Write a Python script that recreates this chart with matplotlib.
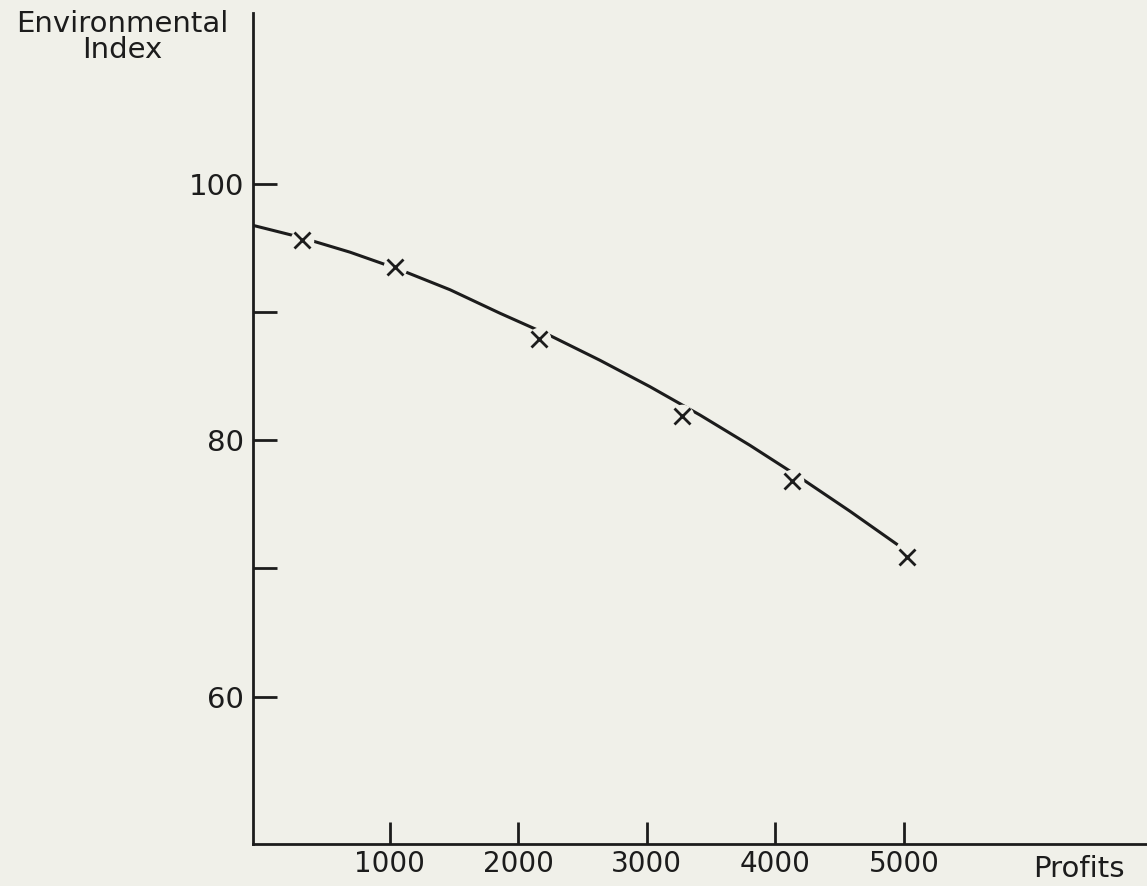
import matplotlib
matplotlib.use("Agg")
import matplotlib.pyplot as plt

# ---- data ----
point_x = [321, 1044, 2162, 3276, 4127, 5026]
point_y = [95.6, 93.5, 87.9, 81.9, 76.8, 70.9]

curve_x = [-62, 303, 692, 1081, 1470, 1858, 2247, 2636, 3025, 3414, 3802, 4191, 4580, 4951]
curve_y = [96.74, 95.82, 94.65, 93.28, 91.72, 89.89, 88.15, 86.22, 84.16, 81.95, 79.59, 77.08, 74.45, 71.83]

x_ticks = [1000, 2000, 3000, 4000, 5000]
x_tick_labels = ["1000", "2000", "3000", "4000", "5000"]
y_ticks = [60, 70, 80, 90, 100]
y_tick_labels = ["60", "", "80", "", "100"]

bg = "#f0f0e9"
ink = "#1c1c1c"

plt.rcParams['font.family'] = ['DejaVu Sans']

fig = plt.figure(figsize=(11.47, 8.86), dpi=100, facecolor=bg)
ax = fig.add_axes([252.5 / 1147, 42 / 886, 1 - 252.5 / 1147, (844 - 13) / 886])
ax.set_facecolor(bg)

ax.set_xlim(-66, 6890)
ax.set_ylim(48.5, 113.3)

ax.plot(curve_x, curve_y, color=ink, lw=2.2, solid_capstyle='butt',
        solid_joinstyle='round', zorder=2)
ax.plot(point_x, point_y, linestyle='none', marker='o', markersize=17,
        markerfacecolor=bg, markeredgecolor='none', zorder=3)
ax.plot(point_x, point_y, linestyle='none', marker='x', markersize=11,
        markeredgewidth=2.0, color=ink, zorder=4)

for s in ['top', 'right']:
    ax.spines[s].set_visible(False)
for s in ['left', 'bottom']:
    ax.spines[s].set_linewidth(2.0)
    ax.spines[s].set_color(ink)

ax.set_xticks(x_ticks)
ax.set_xticklabels(x_tick_labels)
ax.set_yticks(y_ticks)
ax.set_yticklabels(y_tick_labels)
ax.tick_params(axis='x', direction='in', length=15.5, width=2.0, color=ink,
               labelsize=20, labelcolor=ink, pad=4)
ax.tick_params(axis='y', direction='in', length=17.5, width=2.0, color=ink,
               labelsize=21, labelcolor=ink, pad=6)

fig.text(122 / 1147, 1 - 32 / 886, "Environmental", ha='center', va='baseline',
         fontsize=21, color=ink)
fig.text(122 / 1147, 1 - 58 / 886, "Index", ha='center', va='baseline',
         fontsize=21, color=ink)
fig.text(1079 / 1147, 1 - 877 / 886, "Profits", ha='center', va='baseline',
         fontsize=21, color=ink)

fig.savefig("out.png", dpi=100, facecolor=bg)
